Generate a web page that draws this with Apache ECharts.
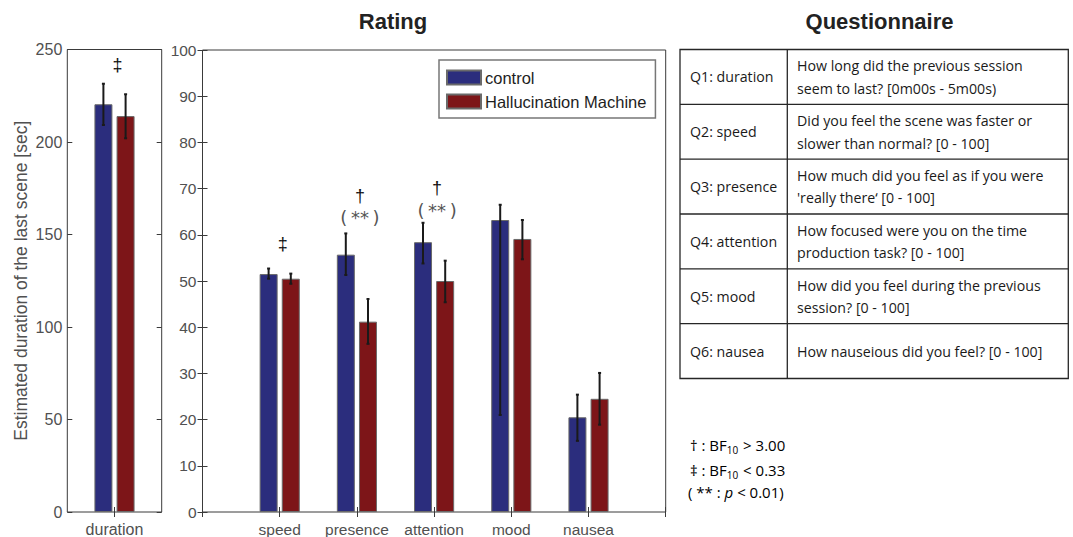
<!DOCTYPE html>
<html><head><meta charset="utf-8">
<script src="https://cdn.jsdelivr.net/npm/echarts@6/dist/echarts.min.js"></script>
<style>html,body{margin:0;padding:0;background:#fff}#c{width:1073px;height:537px}</style>
</head><body><div id="c"></div>
<script>
// ---- data ----
const categories = ['speed', 'presence', 'attention', 'mood', 'nausea'];
const controlMean = [51.5, 55.7, 58.4, 63.2, 20.5];
const controlLow  = [50.5, 51.3, 53.8, 21.0, 15.4];
const controlHigh = [52.7, 60.3, 62.6, 66.5, 25.4];
const hmMean = [50.5, 41.2, 50.0, 59.1, 24.5];
const hmLow  = [49.4, 36.4, 45.4, 54.7, 18.9];
const hmHigh = [51.6, 46.1, 54.4, 63.2, 30.1];

const durationCategory = ['duration'];
const durationControl = [220.4];
const durationControlLow = [209.2];
const durationControlHigh = [231.5];
const durationHM = [214.0];
const durationHMLow = [202.0];
const durationHMHigh = [225.8];

const durationTicks = {min: 0, max: 250, interval: 50};
const ratingTicks = {min: 0, max: 100, interval: 10};

// annotations: [category position, value, text, kind]
const ratingAnnotations = [
  [1, 58.0, '\u2021', 'bf'],
  [2, 68.3, '\u2020', 'bf'],
  [2, 63.7, '(\u2009**\u2009)', 'p'],
  [3, 70.2, '\u2020', 'bf'],
  [3, 65.2, '(\u2009**\u2009)', 'p']
];
const durationAnnotations = [[0, 241.6, '\u2021', 'bf']];

const seriesNames = ['control', 'Hallucination Machine'];

const questionLabels = ['Q1: duration', 'Q2: speed', 'Q3: presence', 'Q4: attention', 'Q5: mood', 'Q6: nausea'];
const questionTexts = [
  ['How long did the previous session', 'seem to last? [0m00s - 5m00s)'],
  ['Did you feel the scene was faster or', 'slower than normal? [0 - 100]'],
  ['How much did you feel as if you were', '\'really there\u2018 [0 - 100]'],
  ['How focused were you on the time', 'production task? [0 - 100]'],
  ['How did you feel during the previous', 'session? [0 - 100]'],
  ['How nauseious did you feel? [0 - 100]']
];

// ---- styles ----
const BLUE = '#2b2d7d', RED = '#7d1518';
const FRAME = '#3a3a3a', LABEL = '#505050';
const SANS = 'Liberation Sans, Arial, sans-serif';
const BAR_W = 18, BAR_GAP = '23%';
const ERR_DX = 11.1;

const chart = echarts.init(document.getElementById('c'), null, {renderer: 'svg'});

function errRender(dx) {
  return function (params, api) {
    const x = api.value(0), lo = api.value(1), hi = api.value(2);
    const pHi = api.coord([x, hi]), pLo = api.coord([x, lo]);
    const cx = pHi[0] + dx;
    const st = {stroke: '#1a1a1a', lineWidth: 2};
    return {type: 'group', children: [
      {type: 'line', shape: {x1: cx, y1: pHi[1], x2: cx, y2: pLo[1]}, style: st},
      {type: 'line', shape: {x1: cx - 1.5, y1: pHi[1], x2: cx + 1.5, y2: pHi[1]}, style: st},
      {type: 'line', shape: {x1: cx - 1.5, y1: pLo[1], x2: cx + 1.5, y2: pLo[1]}, style: st}
    ]};
  };
}
function annRender(list) {
  return function (params, api) {
    const d = list[params.dataIndex];
    const p = api.coord([d[0], d[1]]);
    const isP = d[3] === 'p';
    return {type: 'text', x: p[0] + 3, y: p[1], style: {
      text: d[2], align: 'center', verticalAlign: 'middle',
      fontSize: isP ? 18 : 18, fontFamily: isP ? 'DejaVu Sans, sans-serif' : SANS,
      fontWeight: 'normal', fill: isP ? '#555' : '#111'
    }};
  };
}

const tickStyle = {show: true, inside: true, length: 5, lineStyle: {color: FRAME, width: 1}};

const option = {
  animation: false,
  backgroundColor: '#fff',
  grid: [
    {left: 67.3, top: 49.5, width: 94.4, height: 462.5, show: true, borderColor: FRAME, borderWidth: 1, backgroundColor: 'transparent'},
    {left: 202.5, top: 50, width: 463.2, height: 462.3, show: true, borderColor: FRAME, borderWidth: 1, backgroundColor: 'transparent'}
  ],
  xAxis: [
    {type: 'category', gridIndex: 0, data: durationCategory, position: 'bottom',
      axisLine: {show: false}, axisTick: Object.assign({alignWithLabel: true}, tickStyle),
      axisLabel: {color: LABEL, fontSize: 16, fontFamily: SANS, margin: 9}},
    {type: 'category', gridIndex: 0, data: durationCategory, position: 'top',
      axisLine: {show: false}, axisTick: Object.assign({alignWithLabel: true}, tickStyle),
      axisLabel: {show: false}},
    {type: 'value', gridIndex: 1, min: 0, max: 6, interval: 1, position: 'bottom',
      splitLine: {show: false}, axisLine: {show: false}, axisTick: tickStyle,
      axisLabel: {color: LABEL, fontSize: 15.5, fontFamily: SANS, margin: 9,
        formatter: v => categories[v - 1] || ''}},
    {type: 'value', gridIndex: 1, min: 0, max: 6, interval: 1, position: 'top',
      splitLine: {show: false}, axisLine: {show: false}, axisTick: tickStyle,
      axisLabel: {show: false}}
  ],
  yAxis: [
    {type: 'value', gridIndex: 0, min: durationTicks.min, max: durationTicks.max, interval: durationTicks.interval,
      position: 'left', splitLine: {show: false}, axisLine: {show: false}, axisTick: tickStyle,
      axisLabel: {color: LABEL, fontSize: 16, fontFamily: SANS, margin: 5},
      name: 'Estimated duration of the last scene [sec]', nameLocation: 'middle', nameGap: 37,
      nameTextStyle: {color: LABEL, fontSize: 17.5, fontFamily: SANS}},
    {type: 'value', gridIndex: 0, min: durationTicks.min, max: durationTicks.max, interval: durationTicks.interval,
      position: 'right', splitLine: {show: false}, axisLine: {show: false}, axisTick: tickStyle,
      axisLabel: {show: false}},
    {type: 'value', gridIndex: 1, min: ratingTicks.min, max: ratingTicks.max, interval: ratingTicks.interval,
      position: 'left', splitLine: {show: false}, axisLine: {show: false}, axisTick: tickStyle,
      axisLabel: {color: LABEL, fontSize: 15.5, fontFamily: SANS, margin: 6}},
    {type: 'value', gridIndex: 1, min: ratingTicks.min, max: ratingTicks.max, interval: ratingTicks.interval,
      position: 'right', splitLine: {show: false}, axisLine: {show: false}, axisTick: tickStyle,
      axisLabel: {show: false}}
  ],
  legend: {
    data: seriesNames, orient: 'vertical', left: 439, top: 60,
    padding: [9, 9, 8, 7], itemGap: 7, itemWidth: 34, itemHeight: 14, icon: 'rect',
    borderColor: '#777', borderWidth: 1.5, backgroundColor: '#fff',
    textStyle: {color: '#1e1e1e', fontSize: 16.5, fontFamily: SANS, padding: [0, 0, 0, -1]}
  },
  series: [
    {type: 'bar', name: seriesNames[0], xAxisIndex: 0, yAxisIndex: 0, data: durationControl,
      barWidth: BAR_W, barGap: BAR_GAP, itemStyle: {color: BLUE, borderColor: '#6a6a6a', borderWidth: 1}},
    {type: 'bar', name: seriesNames[1], xAxisIndex: 0, yAxisIndex: 0, data: durationHM,
      barWidth: BAR_W, barGap: BAR_GAP, itemStyle: {color: RED, borderColor: '#6a6a6a', borderWidth: 1}},
    {type: 'bar', name: seriesNames[0], xAxisIndex: 2, yAxisIndex: 2,
      data: controlMean.map((v, i) => [i + 1, v]),
      barWidth: BAR_W, barGap: BAR_GAP, itemStyle: {color: BLUE, borderColor: '#6a6a6a', borderWidth: 1}},
    {type: 'bar', name: seriesNames[1], xAxisIndex: 2, yAxisIndex: 2,
      data: hmMean.map((v, i) => [i + 1, v]),
      barWidth: BAR_W, barGap: BAR_GAP, itemStyle: {color: RED, borderColor: '#6a6a6a', borderWidth: 1}},
    {type: 'custom', xAxisIndex: 0, yAxisIndex: 0, renderItem: errRender(-ERR_DX), z: 5,
      encode: {x: 0, y: [1, 2]}, data: durationControlLow.map((l, i) => [i, l, durationControlHigh[i]])},
    {type: 'custom', xAxisIndex: 0, yAxisIndex: 0, renderItem: errRender(ERR_DX), z: 5,
      encode: {x: 0, y: [1, 2]}, data: durationHMLow.map((l, i) => [i, l, durationHMHigh[i]])},
    {type: 'custom', xAxisIndex: 2, yAxisIndex: 2, renderItem: errRender(-ERR_DX), z: 5,
      encode: {x: 0, y: [1, 2]}, data: controlLow.map((l, i) => [i + 1, l, controlHigh[i]])},
    {type: 'custom', xAxisIndex: 2, yAxisIndex: 2, renderItem: errRender(ERR_DX), z: 5,
      encode: {x: 0, y: [1, 2]}, data: hmLow.map((l, i) => [i + 1, l, hmHigh[i]])},
    {type: 'custom', xAxisIndex: 0, yAxisIndex: 0, renderItem: annRender(durationAnnotations), z: 6,
      encode: {x: 0, y: 1}, data: durationAnnotations.map(d => [d[0], d[1]])},
    {type: 'custom', xAxisIndex: 2, yAxisIndex: 2, renderItem: annRender(ratingAnnotations), z: 6,
      encode: {x: 0, y: 1}, data: ratingAnnotations.map(d => [d[0], d[1]])}
  ]
};

// ---- titles, questionnaire table, footnotes ----
const graphics = [];
graphics.push({type: 'text', x: 393, y: 21, style: {text: 'Rating', align: 'center', verticalAlign: 'middle',
  font: 'bold 22px Liberation Sans, Arial, sans-serif', fill: '#222'}});
graphics.push({type: 'text', x: 879.5, y: 21, style: {text: 'Questionnaire', align: 'center', verticalAlign: 'middle',
  font: 'bold 22px Liberation Sans, Arial, sans-serif', fill: '#222'}});

const T_LEFT = 680, T_RIGHT = 1068.3, T_TOP = 49.5, T_BOT = 378.5, T_SPLIT = 787.3;
const rowH = (T_BOT - T_TOP) / questionLabels.length;
const lineSt = {stroke: '#262626', lineWidth: 1.3};
graphics.push({type: 'rect', shape: {x: T_LEFT, y: T_TOP, width: T_RIGHT - T_LEFT, height: T_BOT - T_TOP}, style: {fill: 'none', stroke: '#262626', lineWidth: 1.3}});
graphics.push({type: 'line', shape: {x1: T_SPLIT, y1: T_TOP, x2: T_SPLIT, y2: T_BOT}, style: lineSt});
questionLabels.forEach((lab, i) => {
  const y0 = T_TOP + i * rowH;
  if (i > 0) graphics.push({type: 'line', shape: {x1: T_LEFT, y1: y0, x2: T_RIGHT, y2: y0}, style: lineSt});
  const cy = y0 + rowH / 2;
  graphics.push({type: 'text', x: 690, y: cy, style: {text: lab, verticalAlign: 'middle',
    font: '14.2px Open Sans, sans-serif', fill: '#1a1a1a'}});
  const lines = questionTexts[i];
  lines.forEach((t, j) => {
    const ly = cy + (j - (lines.length - 1) / 2) * 22.5;
    graphics.push({type: 'text', x: 797, y: ly, style: {text: t, verticalAlign: 'middle',
      font: '14.2px Open Sans, sans-serif', fill: '#1a1a1a'}});
  });
});

const footRich = {
  n: {fontSize: 15, fontFamily: 'Open Sans, sans-serif', color: '#1a1a1a', lineHeight: 20},
  s: {fontSize: 10, fontFamily: 'Open Sans, sans-serif', color: '#1a1a1a', lineHeight: 20, verticalAlign: 'bottom', padding: [0, 1, 0, 0]},
  g: {fontSize: 15, fontFamily: 'Open Sans, sans-serif', color: '#555', lineHeight: 20},
  gi: {fontSize: 15, fontFamily: 'Open Sans, sans-serif', color: '#555', lineHeight: 20, fontStyle: 'italic'}
};
graphics.push({type: 'text', x: 690, y: 445, style: {text: '{n|\u2020 : BF}{s|10}{n| > 3.00}', rich: footRich, verticalAlign: 'middle'}});
graphics.push({type: 'text', x: 690, y: 470, style: {text: '{n|\u2021 : BF}{s|10}{n| < 0.33}', rich: footRich, verticalAlign: 'middle'}});
graphics.push({type: 'text', x: 688, y: 492, style: {text: '{g|( ** : }{gi|p}{g| < 0.01)}', rich: footRich, verticalAlign: 'middle'}});

option.graphic = {elements: graphics};
chart.setOption(option);
</script></body></html>
